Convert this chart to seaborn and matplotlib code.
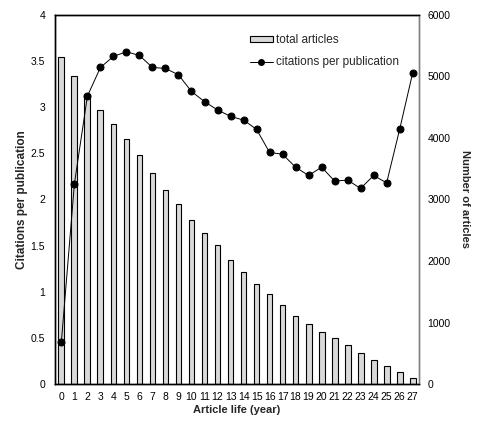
import matplotlib
matplotlib.use("Agg")
import matplotlib.pyplot as plt
import numpy as np
import pandas as pd
import seaborn as sns
from matplotlib.lines import Line2D
from matplotlib.patches import Patch

years = list(range(28))
total_articles = [5320, 5000, 4710, 4455, 4225, 3985, 3725, 3430, 3150, 2920,
                  2660, 2450, 2260, 2010, 1820, 1620, 1460, 1280, 1115, 970,
                  855, 745, 630, 500, 385, 295, 190, 95]
citations_per_pub = [0.46, 2.17, 3.12, 3.43, 3.55, 3.60, 3.56, 3.43, 3.42, 3.35,
                     3.17, 3.06, 2.97, 2.90, 2.86, 2.76, 2.51, 2.49, 2.35, 2.26,
                     2.35, 2.20, 2.21, 2.12, 2.26, 2.18, 2.76, 3.37]

sns.set_theme(style="white")
plt.rcParams["font.family"] = ["Liberation Sans", "DejaVu Sans"]

df = pd.DataFrame({"year": years, "articles": total_articles,
                   "cpp": citations_per_pub})

fig, ax = plt.subplots(figsize=(4.99, 4.24), dpi=100)
fig.subplots_adjust(left=0.110, right=0.840, top=0.965, bottom=0.094)
ax2 = ax.twinx()

# bars on the right axis, drawn behind the line
sns.barplot(data=df, x="year", y="articles", ax=ax2, color="#d9d9d9",
            saturation=1, width=0.45, edgecolor="black", linewidth=0.8)
ax.set_zorder(ax2.get_zorder() + 1)
ax.patch.set_visible(False)

sns.lineplot(data=df, x="year", y="cpp", ax=ax, color="black", linewidth=0.7,
             marker="o", markersize=5, markeredgecolor="black")

ax.set_xlim(-0.5, 27.5)
ax.set_ylim(0, 4)
ax2.set_ylim(0, 6000)
ax.set_xticks(years)
ax.set_xticklabels([str(y) for y in years])
ax.set_yticks([0, 0.5, 1, 1.5, 2, 2.5, 3, 3.5, 4])
ax.set_yticklabels(["0", "0.5", "1", "1.5", "2", "2.5", "3", "3.5", "4"])
ax2.set_yticks([0, 1000, 2000, 3000, 4000, 5000, 6000])

ax.tick_params(axis="both", length=0, labelsize=7.5, colors="black")
ax.tick_params(axis="y", pad=7)
ax.tick_params(axis="x", pad=6)
ax2.tick_params(axis="y", length=0, labelsize=7.5, pad=6, colors="black")
ax2.set_xlabel("")

ax.set_xlabel("Article life (year)", fontsize=8, fontweight="bold", labelpad=2)
ax.set_ylabel("Citations per publication", fontsize=8.5, fontweight="bold",
              labelpad=2)
ax2.set_ylabel("Number of articles", fontsize=8, fontweight="bold",
               rotation=270, labelpad=14)

for a in (ax, ax2):
    for side in ("left", "bottom", "top"):
        a.spines[side].set_color("black")
        a.spines[side].set_linewidth(1.0)
    a.spines["right"].set_color("#808080")
    a.spines["right"].set_linewidth(1.0)

handles = [
    Patch(facecolor="#d9d9d9", edgecolor="black", linewidth=0.8),
    Line2D([0], [0], color="black", linewidth=0.7, marker="o", markersize=4),
]
ax.legend(handles, ["total articles", "citations per publication"],
          loc="upper left", bbox_to_anchor=(0.536, 0.947), frameon=False,
          borderaxespad=0, borderpad=0,
          fontsize=8.5, handlelength=1.9, handleheight=0.35, handletextpad=0.25,
          labelspacing=0.85)

fig.savefig("out.png", dpi=100)
